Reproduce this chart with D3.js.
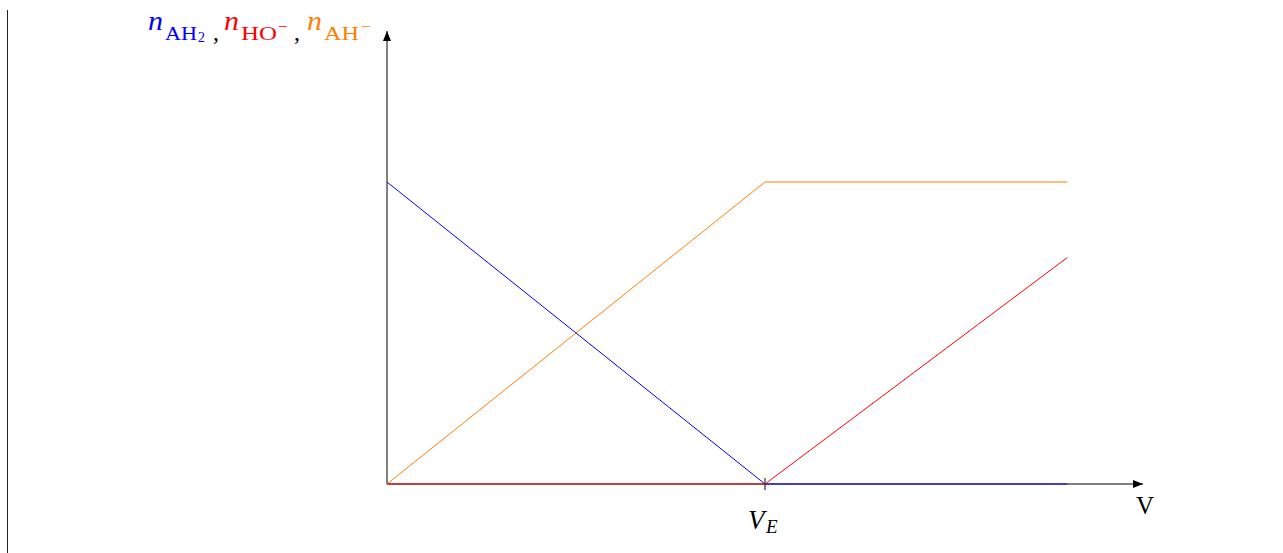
<!DOCTYPE html>
<html><head><meta charset="utf-8">
<script src="https://cdn.jsdelivr.net/npm/d3@7"></script>
<style>body{margin:0;background:#fff}svg{display:block}</style>
</head><body>
<script>
const volumes = [0, 1, 1.8];
const nAH2 = [1, 0, 0];
const nHO = [0, 0, 0.75];
const nAH = [0, 1, 1];
const xTickValues = [1];
const xTickLabels = ["E"];

const W = 1283, H = 553;
const svg = d3.select("body").append("svg").attr("width", W).attr("height", H);
const x = d3.scaleLinear().domain([0, 2]).range([387, 1143]);
const y = d3.scaleLinear().domain([0, 1.5]).range([484, 31]);
const FONT = "Liberation Serif, serif";

// left border line
svg.append("line").attr("x1", 7.5).attr("x2", 7.5).attr("y1", 10).attr("y2", 553)
  .attr("stroke", "#222").attr("stroke-width", 1);

const defs = svg.append("defs");
defs.append("marker").attr("id", "arr").attr("viewBox", "0 0 10 8").attr("refX", 10).attr("refY", 4)
  .attr("markerWidth", 10).attr("markerHeight", 8).attr("markerUnits", "userSpaceOnUse").attr("orient", "auto")
  .append("path").attr("d", "M0,0 L10,4 L0,8 Z").attr("fill", "#000");

// axes
svg.append("line").attr("x1", x(0)).attr("x2", x(2)).attr("y1", y(0)).attr("y2", y(0))
  .attr("stroke", "#000").attr("stroke-width", 1).attr("marker-end", "url(#arr)");
svg.append("line").attr("x1", x(0)).attr("x2", x(0)).attr("y1", y(0)).attr("y2", y(1.5))
  .attr("stroke", "#000").attr("stroke-width", 1).attr("marker-end", "url(#arr)");

// ticks
xTickValues.forEach((v, i) => {
  svg.append("line").attr("x1", x(v)).attr("x2", x(v)).attr("y1", y(0) - 6).attr("y2", y(0) + 6)
    .attr("stroke", "#000").attr("stroke-width", 1);
  svg.append("text").attr("x", x(v) - 17).attr("y", y(0) + 45)
    .attr("font-family", FONT).attr("font-style", "italic").attr("font-size", 27).text("V");
  svg.append("text").attr("x", x(v) + 1).attr("y", y(0) + 49)
    .attr("font-family", FONT).attr("font-style", "italic").attr("font-size", 19).text(xTickLabels[i]);
});

svg.append("text").attr("x", x(2) + 2).attr("y", y(0) + 30).attr("text-anchor", "middle")
  .attr("font-family", FONT).attr("font-size", 25).text("V");

// series
const line = d3.line().x(d => x(d[0])).y(d => y(d[1]));
const series = [
  {vals: nAH, color: "#ff8000"},
  {vals: nAH2, color: "#0000ff"},
  {vals: nHO, color: "#ff0000"}
];
series.forEach(s => {
  svg.append("path").datum(volumes.map((v, i) => [v, s.vals[i]]))
    .attr("d", line).attr("fill", "none").attr("stroke", s.color).attr("stroke-width", 1);
});

// y label pieces
function txt(xp, yp, str, color, size, italic, len) {
  const t = svg.append("text").attr("x", xp).attr("y", yp).attr("fill", color)
    .attr("font-family", FONT).attr("font-size", size).text(str);
  if (italic) t.attr("font-style", "italic");
  if (len) t.attr("textLength", len).attr("lengthAdjust", "spacingAndGlyphs");
  return t;
}
txt(148, 30, "n", "#0000ff", 28, true, 15);
txt(165, 40, "AH", "#0000ff", 19, false, 32);
txt(198, 42, "2", "#0000ff", 14, false);
txt(213, 40, ",", "#000", 24, false);
txt(224, 30, "n", "#ff0000", 28, true, 15);
txt(241, 40, "HO", "#ff0000", 19, false, 36);
txt(278, 31, "−", "#ff0000", 14, false, 10);
txt(294, 40, ",", "#000", 24, false);
txt(307, 30, "n", "#ff8000", 28, true, 15);
txt(324, 40, "AH", "#ff8000", 19, false, 35);
txt(361, 31, "−", "#ff8000", 14, false, 10);
</script>
</body></html>
